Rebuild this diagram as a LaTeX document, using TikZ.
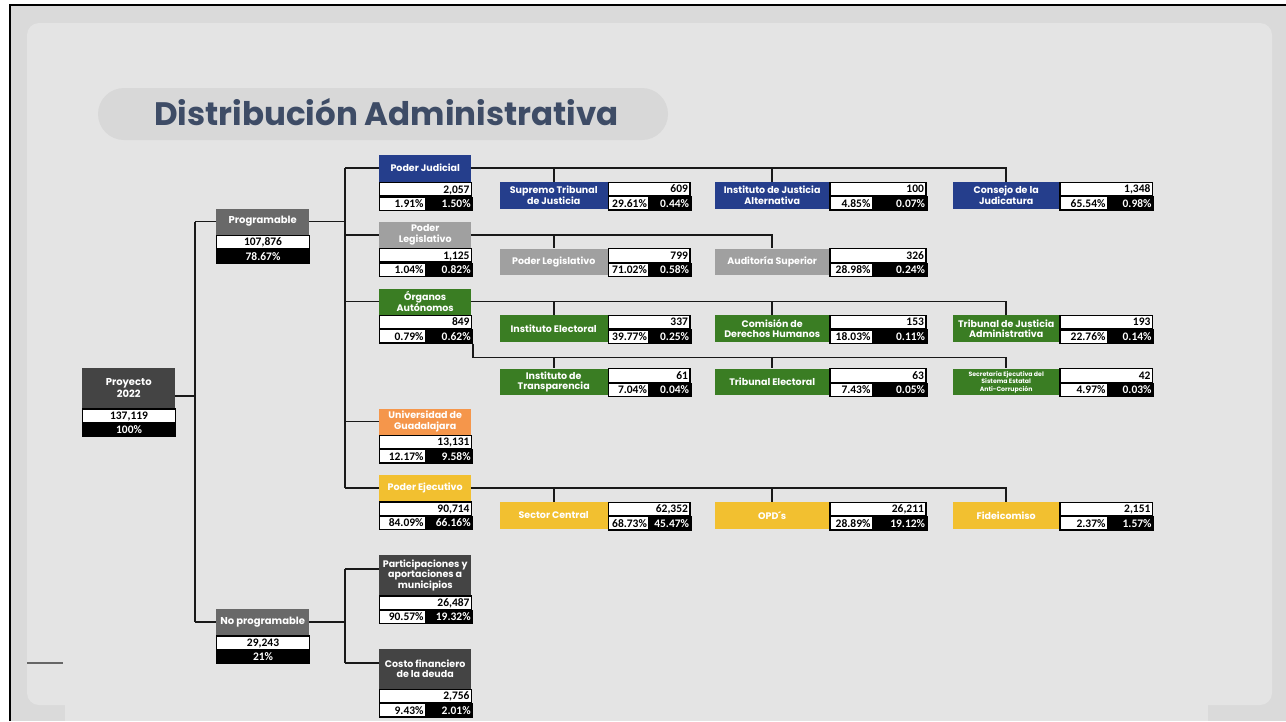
\documentclass[tikz,border=0pt]{standalone}
\usepackage{fontspec}
\newfontfamily\labelfont{Poppins}
\newfontfamily\numfont{Carlito}

\definecolor{judblue}{RGB}{37,62,140}
\definecolor{leggrey}{RGB}{160,160,160}
\definecolor{autgreen}{RGB}{58,125,35}
\definecolor{udgorange}{RGB}{245,150,75}
\definecolor{ejeyellow}{RGB}{242,192,48}
\definecolor{darkbox}{RGB}{68,68,68}
\definecolor{midbox}{RGB}{105,105,105}
\definecolor{titleblue}{RGB}{62,76,102}
\definecolor{pagegrey}{RGB}{218,218,218}
\definecolor{panelgrey}{RGB}{228,228,228}
\definecolor{pillgrey}{RGB}{216,216,216}

\newcommand{\hdrsize}{\fontsize{9.5}{10.5}\selectfont}

% column of the third level: left x, header width, number width, split
\newcommand{\setcol}[1]{\ifcase#1\or
  \def\colx{499.5}\def\colw{108}\def\coln{81.5}\def\cols{40.5}\or
  \def\colx{715}\def\colw{114}\def\coln{96}\def\cols{42.5}\or
  \def\colx{953}\def\colw{106}\def\coln{92.5}\def\cols{47.5}\fi}

% name, x, top, header height, colour, label, value, share
\newcommand{\sumbox}[8]{%
  \node[hdr=#5, font=\labelfont\bfseries\fontsize{10}{12}\selectfont,
    minimum width=93, minimum height=#4, anchor=north west] (#1) at (#2,#3) {#6};
  \node[valcell, text width=89pt, align=center, anchor=north west] (#1v) at (#1.south west) {#7};
  \node[blkcell, text width=89pt, align=center, anchor=north west] (#1p) at (#1v.south west) {#8};
}

% name, top, header height, colour, label, value, share, total
\newcommand{\branch}[8]{%
  \node[hdr=#4, minimum width=92, minimum height=#3, anchor=north west] (#1) at (379,#2) {#5};
  \node[valcell, text width=88pt, anchor=north west] (#1v) at (#1.south west) {#6};
  \node[valcell, text width=42pt, anchor=north west] (#1p) at (#1v.south west) {#7};
  \node[blkcell, text width=42pt, anchor=north west] (#1q) at (#1p.north east) {#8};
}

% name, column, top, colour, label, value, share, total
\newcommand{\leaf}[8]{%
  \setcol{#2}
  \pgfmathsetmacro\twa{\coln-4}\pgfmathsetmacro\twb{\cols-4}\pgfmathsetmacro\twc{\coln-\cols-4}
  \node[hdr=#4, minimum width=\colw, minimum height=26.7, anchor=north west] (#1) at (\colx,#3) {#5};
  \node[valcell, text width=\twa pt, anchor=north west] (#1v) at (#1.north east) {#6};
  \node[valcell, text width=\twb pt, anchor=north west] (#1p) at (#1v.south west) {#7};
  \node[blkcell, text width=\twc pt, anchor=north west] (#1q) at (#1p.north east) {#8};
}

\begin{document}
\begin{tikzpicture}[x=1pt,y=-1pt,
  hdr/.style={fill=#1, text=white, inner sep=0pt, align=center,
    font=\labelfont\bfseries\hdrsize},
  cell/.style={draw=black, line width=1.1pt, inner sep=0pt, inner xsep=2pt,
    minimum height=13.3, text height=7.8pt, text depth=0.4pt, align=right,
    font=\numfont\bfseries\fontsize{11.5}{12}\selectfont},
  valcell/.style={cell, fill=white},
  blkcell/.style={cell, fill=black, text=white},
  link/.style={draw=black!90, line width=1.8pt}]
  \useasboundingbox (0,0) rectangle (1286,721);
  % page
  \fill[white] (0,0) rectangle (1286,721);
  \fill[pagegrey] (10,5) rectangle (1286,721);
  \draw[line width=2.5pt] (10,721) -- (10,5) -- (1286,5);
  \fill[panelgrey, rounded corners=12] (27,23) rectangle (1272,705);
  \fill[panelgrey] (65,690) rectangle (1208,721);
  \draw[black!60, line width=1.2pt] (27,663) -- (63,663);
  \fill[pillgrey, rounded corners=26] (98,88) rectangle (668,140);
  \node[anchor=base west, inner sep=0pt, text=titleblue,
    font=\labelfont\bfseries\fontsize{32.5}{35}\selectfont] (title) at (154,125) {Distribución Administrativa};

  \coordinate (t1) at (195,0);
  \coordinate (t2) at (345,0);

  \sumbox{proy}{82}{368}{40}{darkbox}{Proyecto\\2022}{137,119}{100\%}
  \sumbox{prog}{216}{208.3}{26}{midbox}{Programable}{107,876}{78.67\%}
  \sumbox{noprog}{216}{609}{26}{midbox}{No programable}{29,243}{21\%}

  \branch{judicial}{154.3}{27.4}{judblue}{Poder Judicial}{2,057}{1.91\%}{1.50\%}
  \branch{legis}{221.7}{26}{leggrey}{Poder\\Legislativo}{1,125}{1.04\%}{0.82\%}
  \branch{organos}{288.3}{26}{autgreen}{Órganos\\Autónomos}{849}{0.79\%}{0.62\%}
  \branch{udg}{408.3}{26}{udgorange}{Universidad de\\Guadalajara}{13,131}{12.17\%}{9.58\%}
  \branch{ejecutivo}{475}{26}{ejeyellow}{Poder Ejecutivo}{90,714}{84.09\%}{66.16\%}
  \branch{part}{555}{40}{darkbox}{Participaciones y\\aportaciones a\\municipios}{26,487}{90.57\%}{19.32\%}
  \branch{costo}{648.3}{40}{darkbox}{Costo financiero\\de la deuda}{2,756}{9.43\%}{2.01\%}

  \leaf{supremo}{1}{181.7}{judblue}{Supremo Tribunal\\de Justicia}{609}{29.61\%}{0.44\%}
  \leaf{ijalt}{2}{181.7}{judblue}{Instituto de Justicia\\Alternativa}{100}{4.85\%}{0.07\%}
  \leaf{consejo}{3}{181.7}{judblue}{Consejo de la\\Judicatura}{1,348}{65.54\%}{0.98\%}
  \leaf{plegis}{1}{248.3}{leggrey}{Poder Legislativo}{799}{71.02\%}{0.58\%}
  \leaf{auditoria}{2}{248.3}{leggrey}{Auditoría Superior}{326}{28.98\%}{0.24\%}
  \leaf{ielec}{1}{315}{autgreen}{Instituto Electoral}{337}{39.77\%}{0.25\%}
  \leaf{cdh}{2}{315}{autgreen}{Comisión de\\Derechos Humanos}{153}{18.03\%}{0.11\%}
  \leaf{tjadmin}{3}{315}{autgreen}{Tribunal de Justicia\\Administrativa}{193}{22.76\%}{0.14\%}
  \leaf{itrans}{1}{368.3}{autgreen}{Instituto de\\Transparencia}{61}{7.04\%}{0.04\%}
  \leaf{telec}{2}{368.3}{autgreen}{Tribunal Electoral}{63}{7.43\%}{0.05\%}
  \renewcommand{\hdrsize}{\fontsize{6.2}{7.4}\selectfont}
  \leaf{sesaj}{3}{368.3}{autgreen}{Secretaría Ejecutiva del\\Sistema Estatal\\Anti-Corrupción}{42}{4.97\%}{0.03\%}
  \renewcommand{\hdrsize}{\fontsize{9.5}{10.5}\selectfont}
  \leaf{sector}{1}{501.7}{ejeyellow}{Sector Central}{62,352}{68.73\%}{45.47\%}
  \leaf{opd}{2}{501.7}{ejeyellow}{OPD´s}{26,211}{28.89\%}{19.12\%}
  \leaf{fideic}{3}{501.7}{ejeyellow}{Fideicomiso}{2,151}{2.37\%}{1.57\%}

  % first split
  \coordinate (proyout) at ([yshift=-8pt]proy.east);
  \draw[link] (proyout) -- (proyout -| t1);
  \draw[link] (prog.west -| t1) -- (noprog.west -| t1);
  \draw[link] (prog.west -| t1) -- (prog.west);
  \draw[link] (noprog.west -| t1) -- (noprog.west);
  % programable
  \draw[link] (prog.east) -- (prog.east -| t2);
  \draw[link] (judicial.west -| t2) -- (ejecutivo.west -| t2);
  \foreach \b in {judicial,legis,organos,udg,ejecutivo}
    \draw[link] (\b.west -| t2) -- (\b.west);
  % no programable
  \coordinate (partin) at ([yshift=6pt]part.west);
  \coordinate (costoin) at ([yshift=5.6pt]costo.west);
  \draw[link] (noprog.east) -- (noprog.east -| t2);
  \draw[link] (partin -| t2) -- (costoin -| t2);
  \draw[link] (partin -| t2) -- (partin);
  \draw[link] (costoin -| t2) -- (costoin);
  % third level
  \draw[link] (judicial.east) -| (consejo.north);
  \draw[link] (judicial.east -| supremo.north) -- (supremo.north);
  \draw[link] (judicial.east -| ijalt.north) -- (ijalt.north);
  \draw[link] (legis.east) -| (auditoria.north);
  \draw[link] (legis.east -| plegis.north) -- (plegis.north);
  \draw[link] (organos.east) -| (tjadmin.north);
  \draw[link] (organos.east -| ielec.north) -- (ielec.north);
  \draw[link] (organos.east -| cdh.north) -- (cdh.north);
  \coordinate (org2) at ([yshift=-14pt]organosq.south east);
  \draw[link] (organosq.south east) -- (org2) -| (sesaj.north);
  \draw[link] (org2 -| itrans.north) -- (itrans.north);
  \draw[link] (org2 -| telec.north) -- (telec.north);
  \draw[link] (ejecutivo.east) -| (fideic.north);
  \draw[link] (ejecutivo.east -| sector.north) -- (sector.north);
  \draw[link] (ejecutivo.east -| opd.north) -- (opd.north);
\end{tikzpicture}
\end{document}
